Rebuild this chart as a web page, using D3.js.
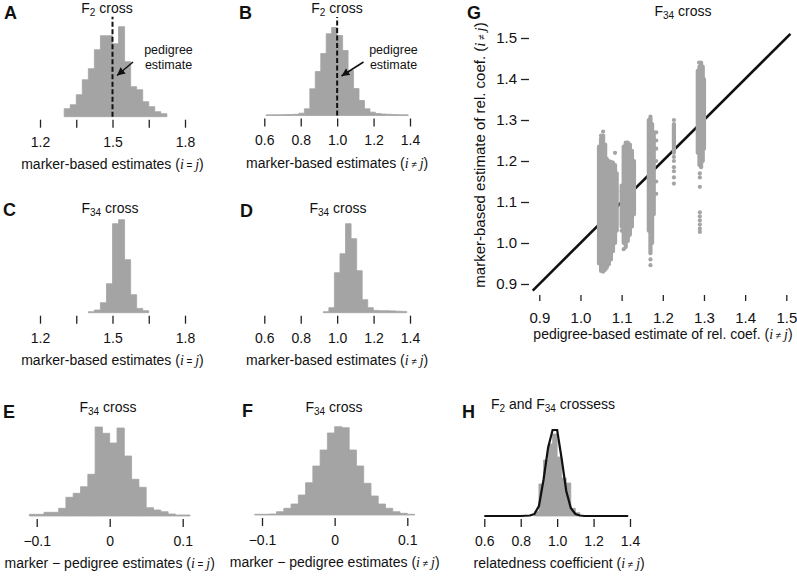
<!DOCTYPE html>
<html><head><meta charset="utf-8">
<script src="https://cdn.jsdelivr.net/npm/d3@7"></script>
<style>
body{margin:0;background:#fff}
svg{display:block}
text{font-family:"Liberation Sans",Arial,Helvetica,sans-serif;fill:#111}
</style>
</head><body>
<svg id="c" width="797" height="578"></svg>
<script>
// ---------------- DATA ----------------
// Histogram A: F2 cross, marker-based estimates (i = j)
const aBinStart = 1.3, aBinWidth = 0.025;
const aCounts = [8,12,22,37,48,67,81,81,73,90,55,30,27,15,10,5,3];
const aTicks = [1.2,1.35,1.5,1.65,1.8];
const aTickLabels = ["1.2","","1.5","","1.8"];
const aPedigree = 1.5;
// Histogram B: F2 cross, marker-based estimates (i != j)
const bBinStart = 0.61, bBinWidth = 0.03;
const bCounts = [0.7,0.7,0.8,0.9,1,1.2,2.3,6.7,26.7,44,62,81.7,88,80,65,45,27,15,6.7,3.3,2,1.5,1.2,1,0.8,0.7];
const bTicks = [0.6,0.8,1.0,1.2,1.4];
const bTickLabels = ["0.6","0.8","1.0","1.2","1.4"];
const bPedigree = 1.0;
// Histogram C: F34 cross (i = j)
const cBinStart = 1.4, cBinWidth = 0.025;
const cCounts = [1,2.7,10,29,89,93,53,18,4.3,2];
// Histogram D: F34 cross (i != j)
const dBinStart = 0.924, dBinWidth = 0.0305;
const dCounts = [1,5,40,59,89,74,42,13,5,2.3,2,2,1.8,1.5,1.3];
// Histogram E: F34 cross, marker - pedigree (i = j)
const eBinStart = -0.11, eBinWidth = 0.01;
const eCounts = [1.7,1.7,3.7,3.7,7.7,18.7,22.7,29.3,41.7,89,82.7,73,88,60,36.7,28.7,8.3,6,4.3,2,1,1];
const eTicks = [-0.1,0,0.1];
const eTickLabels = ["\u22120.1","0","0.1"];
// Histogram F: F34 cross, marker - pedigree (i != j)
const fBinStart = -0.11, fBinWidth = 0.01;
const fCounts = [0.7,0.7,1,3.3,6.7,11,20,32.3,49,65,82,88.3,87.3,65,49,31.7,19,11,6.7,3.3,1.7,0.7];
// Histogram H: F2 and F34 crosses, relatedness coefficient (i != j)
const hBinStart = 0.875, hBinWidth = 0.025;
const hCounts = [4.3,32,56,72,82,59,38,33,7.7,3.3];
const hCurveX = [0.6,0.8,0.85,0.875,0.9,0.925,0.95,0.975,1.0,1.025,1.05,1.075,1.1,1.125,1.15,1.39];
const hCurveY = [0,0,0.5,2,10,36,68,86,86,57,25,8,2,0.5,0,0];
// Scatter G: pedigree-based (x) vs marker-based (y) estimates, F34 cross
const gTicks = [0.9,1.0,1.1,1.2,1.3,1.4,1.5];
// dense columns of points: [pedigree, marker low, marker high]
const gColumns = [
 [1.045,0.95,1.235],[1.050,0.932,1.255],[1.055,0.93,1.262],[1.060,0.935,1.24],[1.064,0.94,1.205],
 [1.069,0.948,1.2],[1.074,0.96,1.198],[1.079,0.98,1.196],[1.084,1.0,1.19],[1.088,1.03,1.17],
 [1.100,1.04,1.14],[1.105,1.0,1.235],[1.110,0.99,1.245],[1.115,1.005,1.245],[1.120,1.02,1.24],
 [1.125,1.04,1.225],[1.130,1.07,1.2],
 [1.166,1.03,1.3],[1.170,0.975,1.308],[1.174,1.0,1.29],[1.178,1.07,1.27],
 [1.227,1.22,1.29],
 [1.285,1.22,1.42],[1.289,1.19,1.43],[1.293,1.185,1.44],[1.297,1.2,1.43],[1.300,1.23,1.4]
];
// isolated points: [pedigree, marker]
const gPoints = [
 [1.055,1.272],[1.05,1.262],[1.084,1.22],[1.1,1.03],[1.105,0.985],[1.1,1.09],[1.1,1.125],
 [1.17,0.946],[1.17,0.96],[1.184,1.12],[1.184,1.15],[1.184,1.2],[1.184,1.23],[1.184,1.25],[1.184,1.27],
 [1.227,1.30],[1.227,1.21],[1.227,1.2],[1.227,1.185],[1.227,1.175],[1.227,1.16],[1.227,1.145],
 [1.29,1.17],[1.29,1.16],[1.29,1.137],[1.29,1.075],[1.29,1.065],[1.29,1.055],[1.29,1.045],
 [1.29,1.035],[1.29,1.027],[1.288,1.44]
];
const gIdentity = [0.884, 1.51];

// ---------------- DRAWING ----------------
const GRAY = "#a4a4a4";
const svg = d3.select("#c");
const SERIF = "'Liberation Serif','Times New Roman',serif";

function subTitle(x, y, segs, size) {
  const t = svg.append("text").attr("x", x).attr("y", y).attr("text-anchor", "middle").attr("font-size", size || 14);
  segs.forEach((s, i) => {
    const sp = t.append("tspan").text(s);
    if (i % 2 === 1) sp.attr("font-size", 10).attr("dy", 3);
    else if (i > 0) sp.attr("dy", -3);
  });
}
function ijLabel(x, y, pre, op, rotate, size) {
  const t = svg.append("text").attr("text-anchor", "middle").attr("font-size", size || 14);
  if (rotate) t.attr("transform", `translate(${x},${y}) rotate(-90)`);
  else t.attr("x", x).attr("y", y);
  t.append("tspan").text(pre + "(");
  t.append("tspan").attr("font-family", SERIF).attr("font-style", "italic").text("i");
  t.append("tspan").attr("font-size", 10).text(" " + op + " ");
  t.append("tspan").attr("font-family", SERIF).attr("font-style", "italic").text("j");
  t.append("tspan").text(")");
}
function letter(x, y, L) {
  svg.append("text").attr("x", x).attr("y", y).attr("font-size", 18).attr("font-weight", "bold").text(L);
}

svg.append("defs").append("marker").attr("id", "arr").attr("markerUnits", "userSpaceOnUse")
  .attr("markerWidth", 10).attr("markerHeight", 10).attr("refX", 8).attr("refY", 4).attr("orient", "auto")
  .append("path").attr("d", "M0,0 L8,4 L0,8 Z").attr("fill", "#111");

function hist(p) {
  const x = d3.scaleLinear().domain(p.domain).range(p.range);
  const y = d3.scaleLinear().domain([0, 100]).range([p.base, p.base - 100]);
  const pts = p.counts.map((c, i) => [p.start + i * p.width, c]);
  pts.push([p.start + p.counts.length * p.width, p.counts[p.counts.length - 1]]);
  const area = d3.area().x(d => x(d[0])).y0(y(0)).y1(d => y(d[1])).curve(d3.curveStepAfter);
  svg.append("path").attr("d", area(pts)).attr("fill", GRAY).attr("stroke", GRAY).attr("stroke-width", 0.8);
  if (p.curveX) {
    const line = d3.line().x((d, i) => x(p.curveX[i])).y((d, i) => y(p.curveY[i]));
    svg.append("path").attr("d", line(p.curveX)).attr("fill", "none").attr("stroke", "#111").attr("stroke-width", 2.2);
  }
  if (p.ped !== undefined) {
    svg.append("line").attr("x1", x(p.ped)).attr("x2", x(p.ped)).attr("y1", y(0)).attr("y2", y(p.pedTop))
      .attr("stroke", "#111").attr("stroke-width", 2).attr("stroke-dasharray", "5,2.5");
  }
  const ax = svg.append("g").attr("transform", `translate(0,${p.base + 3})`)
    .call(d3.axisBottom(x).tickValues(p.ticks).tickSize(8).tickPadding(9).tickFormat((d, i) => p.tickLabels[i]));
  ax.select(".domain").remove();
  ax.selectAll(".tick line").attr("stroke", "#222").attr("stroke-width", 1.3);
  ax.selectAll("text").attr("font-size", 14).attr("font-family", "'Liberation Sans',Arial,sans-serif").attr("fill", "#111");
  ijLabel(x((p.domain[0] + p.domain[1]) / 2) + (p.labelShift || 0), p.base + 52, p.xpre, p.op);
  subTitle(p.tx, p.ty, p.title);
  letter(p.lx, p.ly, p.L);
  if (p.ann) {
    svg.append("text").attr("x", p.ann.tx).attr("y", 53.5).attr("text-anchor", "middle").attr("font-size", 12.5).text("pedigree");
    svg.append("text").attr("x", p.ann.tx).attr("y", 68.5).attr("text-anchor", "middle").attr("font-size", 12.5).text("estimate");
    svg.append("line").attr("x1", p.ann.a[0]).attr("y1", p.ann.a[1]).attr("x2", p.ann.a[2]).attr("y2", p.ann.a[3])
      .attr("stroke", "#111").attr("stroke-width", 1.5).attr("marker-end", "url(#arr)");
  }
}

hist({L:"A", lx:4, ly:19, title:["F","2"," cross"], tx:107, ty:13, domain:[1.2,1.8], range:[40,185], base:116.7,
  start:aBinStart, width:aBinWidth, counts:aCounts, ticks:aTicks, tickLabels:aTickLabels,
  xpre:"marker-based estimates ", op:"=", ped:aPedigree, pedTop:100, ann:{tx:168.5, a:[133,62,117,75.5]}});
hist({L:"B", lx:239, ly:19, title:["F","2"," cross"], tx:337, ty:13, domain:[0.6,1.4], range:[264.3,410], base:115.5,
  start:bBinStart, width:bBinWidth, counts:bCounts, ticks:bTicks, tickLabels:bTickLabels,
  xpre:"marker-based estimates ", op:"\u2260", ped:bPedigree, pedTop:98.5, ann:{tx:393.5, a:[363.5,62,341.5,76]}});
hist({L:"C", lx:3, ly:216, title:["F","34"," cross"], tx:110, ty:213, domain:[1.2,1.8], range:[40,185], base:312.7,
  start:cBinStart, width:cBinWidth, counts:cCounts, ticks:aTicks, tickLabels:aTickLabels,
  xpre:"marker-based estimates ", op:"="});
hist({L:"D", lx:240, ly:217, title:["F","34"," cross"], tx:338, ty:213, domain:[0.6,1.4], range:[264.3,410], base:312.7,
  start:dBinStart, width:dBinWidth, counts:dCounts, ticks:bTicks, tickLabels:bTickLabels,
  xpre:"marker-based estimates ", op:"\u2260"});
hist({L:"E", lx:3, ly:418, title:["F","34"," cross"], tx:108, ty:412, domain:[-0.1,0.1], range:[36.7,182.7], base:516,
  start:eBinStart, width:eBinWidth, counts:eCounts, ticks:eTicks, tickLabels:eTickLabels,
  xpre:"marker \u2212 pedigree estimates ", op:"="});
hist({L:"F", lx:242, ly:417, title:["F","34"," cross"], tx:334, ty:412, domain:[-0.1,0.1], range:[262,407.3], base:515,
  start:fBinStart, width:fBinWidth, counts:fCounts, ticks:eTicks, tickLabels:eTickLabels,
  xpre:"marker \u2212 pedigree estimates ", op:"\u2260"});
hist({L:"H", lx:462, ly:418, title:["F","2"," and F","34"," crossess"], tx:553, ty:409, domain:[0.6,1.4], range:[484.3,630], base:516,
  start:hBinStart, width:hBinWidth, counts:hCounts, ticks:bTicks, tickLabels:bTickLabels,
  xpre:"relatedness coefficient ", op:"\u2260", curveX:hCurveX, curveY:hCurveY, labelShift:2});

// ---- Panel G scatter ----
const gx = d3.scaleLinear().domain([0.9, 1.5]).range([539.3, 786.3]);
const gy = d3.scaleLinear().domain([0.9, 1.5]).range([284, 38]);
svg.append("line").attr("x1", gx(gIdentity[0])).attr("y1", gy(gIdentity[0])).attr("x2", gx(gIdentity[1])).attr("y2", gy(gIdentity[1]))
  .attr("stroke", "#111").attr("stroke-width", 2.6);
svg.append("g").selectAll("line").data(gColumns).enter().append("line")
  .attr("x1", d => gx(d[0])).attr("x2", d => gx(d[0])).attr("y1", d => gy(d[1])).attr("y2", d => gy(d[2]))
  .attr("stroke", GRAY).attr("stroke-width", 4.2).attr("stroke-linecap", "round");
svg.append("g").selectAll("circle").data(gPoints).enter().append("circle")
  .attr("cx", d => gx(d[0])).attr("cy", d => gy(d[1])).attr("r", 2.1).attr("fill", GRAY);
const gxa = svg.append("g").attr("transform", "translate(0,295)")
  .call(d3.axisBottom(gx).tickValues(gTicks).tickSize(6).tickPadding(11).tickFormat(d3.format(".1f")));
const gya = svg.append("g").attr("transform", "translate(529,0)")
  .call(d3.axisLeft(gy).tickValues(gTicks).tickSize(8).tickPadding(4).tickFormat(d3.format(".1f")));
[gxa, gya].forEach(a => {
  a.select(".domain").remove();
  a.selectAll(".tick line").attr("stroke", "#222").attr("stroke-width", 1.3);
  a.selectAll("text").attr("font-size", 15).attr("font-family", "'Liberation Sans',Arial,sans-serif").attr("fill", "#111");
});
ijLabel(663, 339, "pedigree-based estimate of rel. coef. ", "\u2260");
ijLabel(485, 155, "marker-based estimate of rel. coef. ", "\u2260", true, 15);
subTitle(683, 16, ["F","34"," cross"]);
letter(467, 19, "G");
</script>
</body></html>
